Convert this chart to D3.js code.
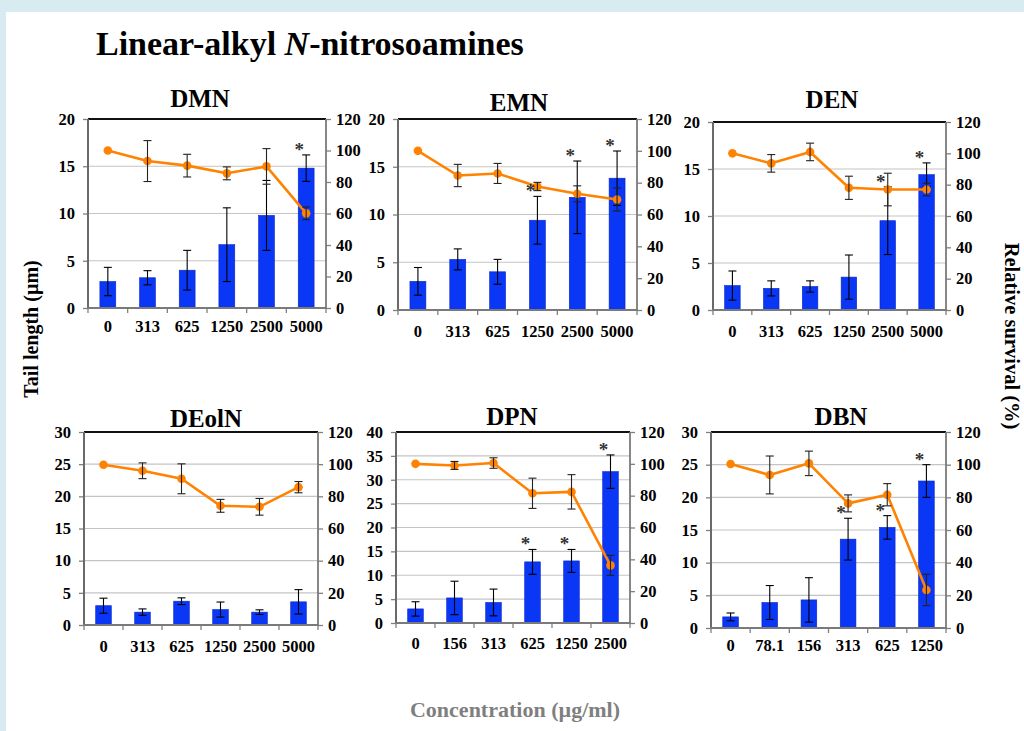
<!DOCTYPE html>
<html>
<head>
<meta charset="utf-8">
<script src="https://cdn.jsdelivr.net/npm/d3@7"></script>
<style>
  html, body { margin: 0; padding: 0; background: #d7ebf1; }
  svg { display: block; }
  text { font-family: "Liberation Serif", "Times New Roman", serif; font-weight: bold; }
</style>
</head>
<body>
<svg id="chart" width="1024" height="731"></svg>
<script>
// ---------- data: tail length (µm, mean ± SD) and relative survival (%, mean ± SD) ----------
const dmnDoses = ["0", "313", "625", "1250", "2500", "5000"];
const dmnTail = [2.8, 3.2, 4.0, 6.7, 9.8, 14.8];
const dmnTailErr = [1.5, 0.75, 2.1, 3.9, 3.7, 1.4];
const dmnSurvival = [100, 93.3, 90.4, 85.5, 89.9, 60.1];
const dmnSurvivalErr = [0, 13, 7.2, 4.1, 11.3, 4];
const dmnSignificant = ["5000"];

const emnDoses = ["0", "313", "625", "1250", "2500", "5000"];
const emnTail = [3.0, 5.3, 4.0, 9.4, 11.8, 13.8];
const emnTailErr = [1.45, 1.1, 1.3, 2.5, 3.8, 2.85];
const emnSurvival = [100, 84.5, 85.8, 77.6, 73.0, 69.4];
const emnSurvivalErr = [0, 7, 6.3, 2.6, 5, 7.2];
const emnSignificant = ["1250", "2500", "5000"];

const denDoses = ["0", "313", "625", "1250", "2500", "5000"];
const denTail = [2.6, 2.3, 2.5, 3.5, 9.5, 14.4];
const denTailErr = [1.55, 0.8, 0.6, 2.35, 3.6, 1.25];
const denSurvival = [100, 93.6, 100.9, 78.0, 76.9, 76.9];
const denSurvivalErr = [0, 5.6, 5.6, 7.4, 10.4, 4];
const denSignificant = ["2500", "5000"];

const deolnDoses = ["0", "313", "625", "1250", "2500", "5000"];
const deolnTail = [3.0, 2.0, 3.7, 2.4, 2.0, 3.6];
const deolnTailErr = [1.17, 0.5, 0.52, 1.17, 0.36, 1.9];
const deolnSurvival = [99.6, 95.9, 90.9, 74.1, 73.5, 85.7];
const deolnSurvivalErr = [0, 4.9, 9.3, 4, 5.2, 3.5];
const deolnSignificant = [];

const dpnDoses = ["0", "156", "313", "625", "1250", "2500"];
const dpnTail = [2.95, 5.25, 4.3, 12.8, 13.0, 31.7];
const dpnTailErr = [1.5, 3.5, 2.8, 2.6, 2.4, 3.5];
const dpnSurvival = [100, 99, 100.5, 81.5, 82.4, 36.2];
const dpnSurvivalErr = [0, 2.5, 3.3, 9.5, 10.8, 6.3];
const dpnSignificant = ["625", "1250", "2500"];

const dbnDoses = ["0", "78.1", "156", "313", "625", "1250"];
const dbnTail = [1.7, 3.9, 4.3, 13.6, 15.4, 22.5];
const dbnTailErr = [0.6, 2.6, 3.4, 3.2, 1.8, 2.5];
const dbnSurvival = [100.4, 93.7, 100.8, 76.3, 81.6, 23.3];
const dbnSurvivalErr = [0, 11.6, 7.5, 5.2, 6.8, 9.6];
const dbnSignificant = ["313", "625", "1250"];

const tailTicks20 = [0, 5, 10, 15, 20];
const tailTicks30 = [0, 5, 10, 15, 20, 25, 30];
const tailTicks40 = [0, 5, 10, 15, 20, 25, 30, 35, 40];
const survivalTicks = [0, 20, 40, 60, 80, 100, 120];

// ---------- panel assembly ----------
const panels = [
  { name: "DMN", doses: dmnDoses, tail: dmnTail, tailErr: dmnTailErr, surv: dmnSurvival, survErr: dmnSurvivalErr, sig: dmnSignificant, tailTicks: tailTicks20,
    box: { x0: 88, x1: 326, y0: 119, y1: 308 }, titleX: 200, titleY: 107, labelDy: 25 },
  { name: "EMN", doses: emnDoses, tail: emnTail, tailErr: emnTailErr, surv: emnSurvival, survErr: emnSurvivalErr, sig: emnSignificant, tailTicks: tailTicks20,
    box: { x0: 398, x1: 637, y0: 119, y1: 310 }, titleX: 519, titleY: 111, labelDy: 28 },
  { name: "DEN", doses: denDoses, tail: denTail, tailErr: denTailErr, surv: denSurvival, survErr: denSurvivalErr, sig: denSignificant, tailTicks: tailTicks20,
    box: { x0: 713, x1: 946, y0: 122, y1: 310 }, titleX: 832, titleY: 108, labelDy: 28 },
  { name: "DEolN", doses: deolnDoses, tail: deolnTail, tailErr: deolnTailErr, surv: deolnSurvival, survErr: deolnSurvivalErr, sig: deolnSignificant, tailTicks: tailTicks30,
    box: { x0: 84, x1: 318, y0: 432, y1: 625 }, titleX: 206, titleY: 427, labelDy: 28 },
  { name: "DPN", doses: dpnDoses, tail: dpnTail, tailErr: dpnTailErr, surv: dpnSurvival, survErr: dpnSurvivalErr, sig: dpnSignificant, tailTicks: tailTicks40,
    box: { x0: 396, x1: 630, y0: 432, y1: 623 }, titleX: 512, titleY: 425, labelDy: 27 },
  { name: "DBN", doses: dbnDoses, tail: dbnTail, tailErr: dbnTailErr, surv: dbnSurvival, survErr: dbnSurvivalErr, sig: dbnSignificant, tailTicks: tailTicks30,
    box: { x0: 711, x1: 946, y0: 432, y1: 628 }, titleX: 841, titleY: 425, labelDy: 24 }
];

const BAR = "#0a36f6", BAR_EDGE = "#0a24c8", ORANGE = "#ff8200";

const svg = d3.select("#chart");

// white slide area over the pale blue frame
svg.append("rect").attr("x", 6).attr("y", 12).attr("width", 1018).attr("height", 719).attr("fill", "#ffffff");

svg.append("text").attr("x", 96).attr("y", 55).attr("font-size", 34).attr("fill", "#000")
  .text("Linear-alkyl ")
  .append("tspan").attr("font-style", "italic").text("N")
  .select(function () { return this.parentNode; })
  .append("tspan").text("-nitrosoamines");

svg.append("text").attr("transform", "translate(38,329) rotate(-90)").attr("text-anchor", "middle")
  .attr("font-size", 20).attr("fill", "#000").text("Tail length (µm)");
svg.append("text").attr("transform", "translate(1005,336) rotate(90)").attr("text-anchor", "middle")
  .attr("font-size", 20.5).attr("fill", "#000").text("Relative survival (%)");
svg.append("text").attr("x", 515).attr("y", 717).attr("text-anchor", "middle")
  .attr("font-size", 22).attr("fill", "#7f7f7f").text("Concentration (µg/ml)");

panels.forEach(p => {
  const { x0, x1, y0, y1 } = p.box;
  const g = svg.append("g");

  const x = d3.scaleBand().domain(p.doses).range([x0, x1]).paddingInner(0.6).paddingOuter(0.3);
  const step = x.step();
  const cx = d => x(d) + x.bandwidth() / 2;
  const yL = d3.scaleLinear().domain([0, d3.max(p.tailTicks)]).range([y1, y0]);
  const yR = d3.scaleLinear().domain([0, 120]).range([y1, y0]);

  // horizontal gridlines on the tail-length ticks
  g.append("g").selectAll("line").data(p.tailTicks.slice(1, -1)).join("line")
    .attr("x1", x0).attr("x2", x1).attr("y1", d => yL(d)).attr("y2", d => yL(d))
    .attr("stroke", "#c4c4c4").attr("stroke-width", 1.2);

  // left axis
  const axL = g.append("g").attr("transform", `translate(${x0},0)`)
    .call(d3.axisLeft(yL).tickValues(p.tailTicks).tickSize(5).tickPadding(8).tickFormat(d3.format("d")));
  // right axis
  const axR = g.append("g").attr("transform", `translate(${x1},0)`)
    .call(d3.axisRight(yR).tickValues(survivalTicks).tickSize(5).tickPadding(5).tickFormat(d3.format("d")));
  // category labels
  const axB = g.append("g").attr("transform", `translate(0,${y1})`)
    .call(d3.axisBottom(x).tickSize(0).tickPadding(p.labelDy - 13));
  [axL, axR, axB].forEach(a => {
    a.select(".domain").remove();
    a.selectAll("line").attr("stroke", "#808080").attr("stroke-width", 1.3);
    a.selectAll("text").attr("font-size", 16.5).attr("fill", "#000")
      .attr("font-family", "'Liberation Serif', 'Times New Roman', serif").attr("font-weight", "bold");
  });

  // category boundary tick marks below the axis
  g.append("g").selectAll("line").data(d3.range(p.doses.length + 1)).join("line")
    .attr("x1", i => x0 + i * step).attr("x2", i => x0 + i * step)
    .attr("y1", y1).attr("y2", y1 + 5)
    .attr("stroke", "#808080").attr("stroke-width", 1.3);

  // bars: tail length
  g.append("g").selectAll("rect").data(p.doses).join("rect")
    .attr("x", d => x(d)).attr("width", x.bandwidth())
    .attr("y", (d, i) => yL(p.tail[i])).attr("height", (d, i) => y1 - yL(p.tail[i]))
    .attr("fill", BAR).attr("stroke", BAR_EDGE).attr("stroke-width", 0.6);

  // bar error bars
  const be = g.append("g").attr("stroke", "#000").attr("stroke-width", 1.1);
  p.doses.forEach((d, i) => {
    const hi = yL(p.tail[i] + p.tailErr[i]), lo = yL(p.tail[i] - p.tailErr[i]);
    be.append("line").attr("x1", cx(d)).attr("x2", cx(d)).attr("y1", hi).attr("y2", lo);
    be.append("line").attr("x1", cx(d) - 4).attr("x2", cx(d) + 4).attr("y1", hi).attr("y2", hi);
    be.append("line").attr("x1", cx(d) - 4).attr("x2", cx(d) + 4).attr("y1", lo).attr("y2", lo);
  });

  // frame
  g.append("line").attr("x1", x0).attr("x2", x1).attr("y1", y0).attr("y2", y0).attr("stroke", "#111").attr("stroke-width", 1.8);
  g.append("line").attr("x1", x1).attr("x2", x1).attr("y1", y0).attr("y2", y1).attr("stroke", "#7a7a7a").attr("stroke-width", 1.8);
  g.append("line").attr("x1", x0).attr("x2", x0).attr("y1", y0).attr("y2", y1).attr("stroke", "#6a6a6a").attr("stroke-width", 2);
  g.append("line").attr("x1", x0 - 1).attr("x2", x1 + 1).attr("y1", y1).attr("y2", y1).attr("stroke", "#7a7a7a").attr("stroke-width", 2);

  // survival line with markers
  const line = d3.line().x(d => cx(d)).y((d, i) => yR(p.surv[i]));
  g.append("path").datum(p.doses).attr("d", line)
    .attr("fill", "none").attr("stroke", ORANGE).attr("stroke-width", 2.6).attr("stroke-linejoin", "round");
  g.append("g").selectAll("circle").data(p.doses).join("circle")
    .attr("cx", d => cx(d)).attr("cy", (d, i) => yR(p.surv[i])).attr("r", 4.3)
    .attr("fill", ORANGE);

  // survival error bars
  const le = g.append("g").attr("stroke", "#222").attr("stroke-width", 1.1);
  p.doses.forEach((d, i) => {
    if (!p.survErr[i]) return;
    const hi = yR(p.surv[i] + p.survErr[i]), lo = yR(p.surv[i] - p.survErr[i]);
    le.append("line").attr("x1", cx(d)).attr("x2", cx(d)).attr("y1", hi).attr("y2", lo);
    le.append("line").attr("x1", cx(d) - 4).attr("x2", cx(d) + 4).attr("y1", hi).attr("y2", hi);
    le.append("line").attr("x1", cx(d) - 4).attr("x2", cx(d) + 4).attr("y1", lo).attr("y2", lo);
  });

  // significance markers
  g.append("g").selectAll("text").data(p.sig).join("text")
    .attr("x", d => cx(d) - 7)
    .attr("y", d => { const i = p.doses.indexOf(d); return yL(p.tail[i] + p.tailErr[i]) + 1; })
    .attr("text-anchor", "middle").attr("font-size", 19).attr("font-weight", "normal").attr("fill", "#333")
    .text("*");

  // panel title
  g.append("text").attr("x", p.titleX).attr("y", p.titleY).attr("text-anchor", "middle")
    .attr("font-size", 25).attr("fill", "#000").text(p.name);
});
</script>
</body>
</html>
